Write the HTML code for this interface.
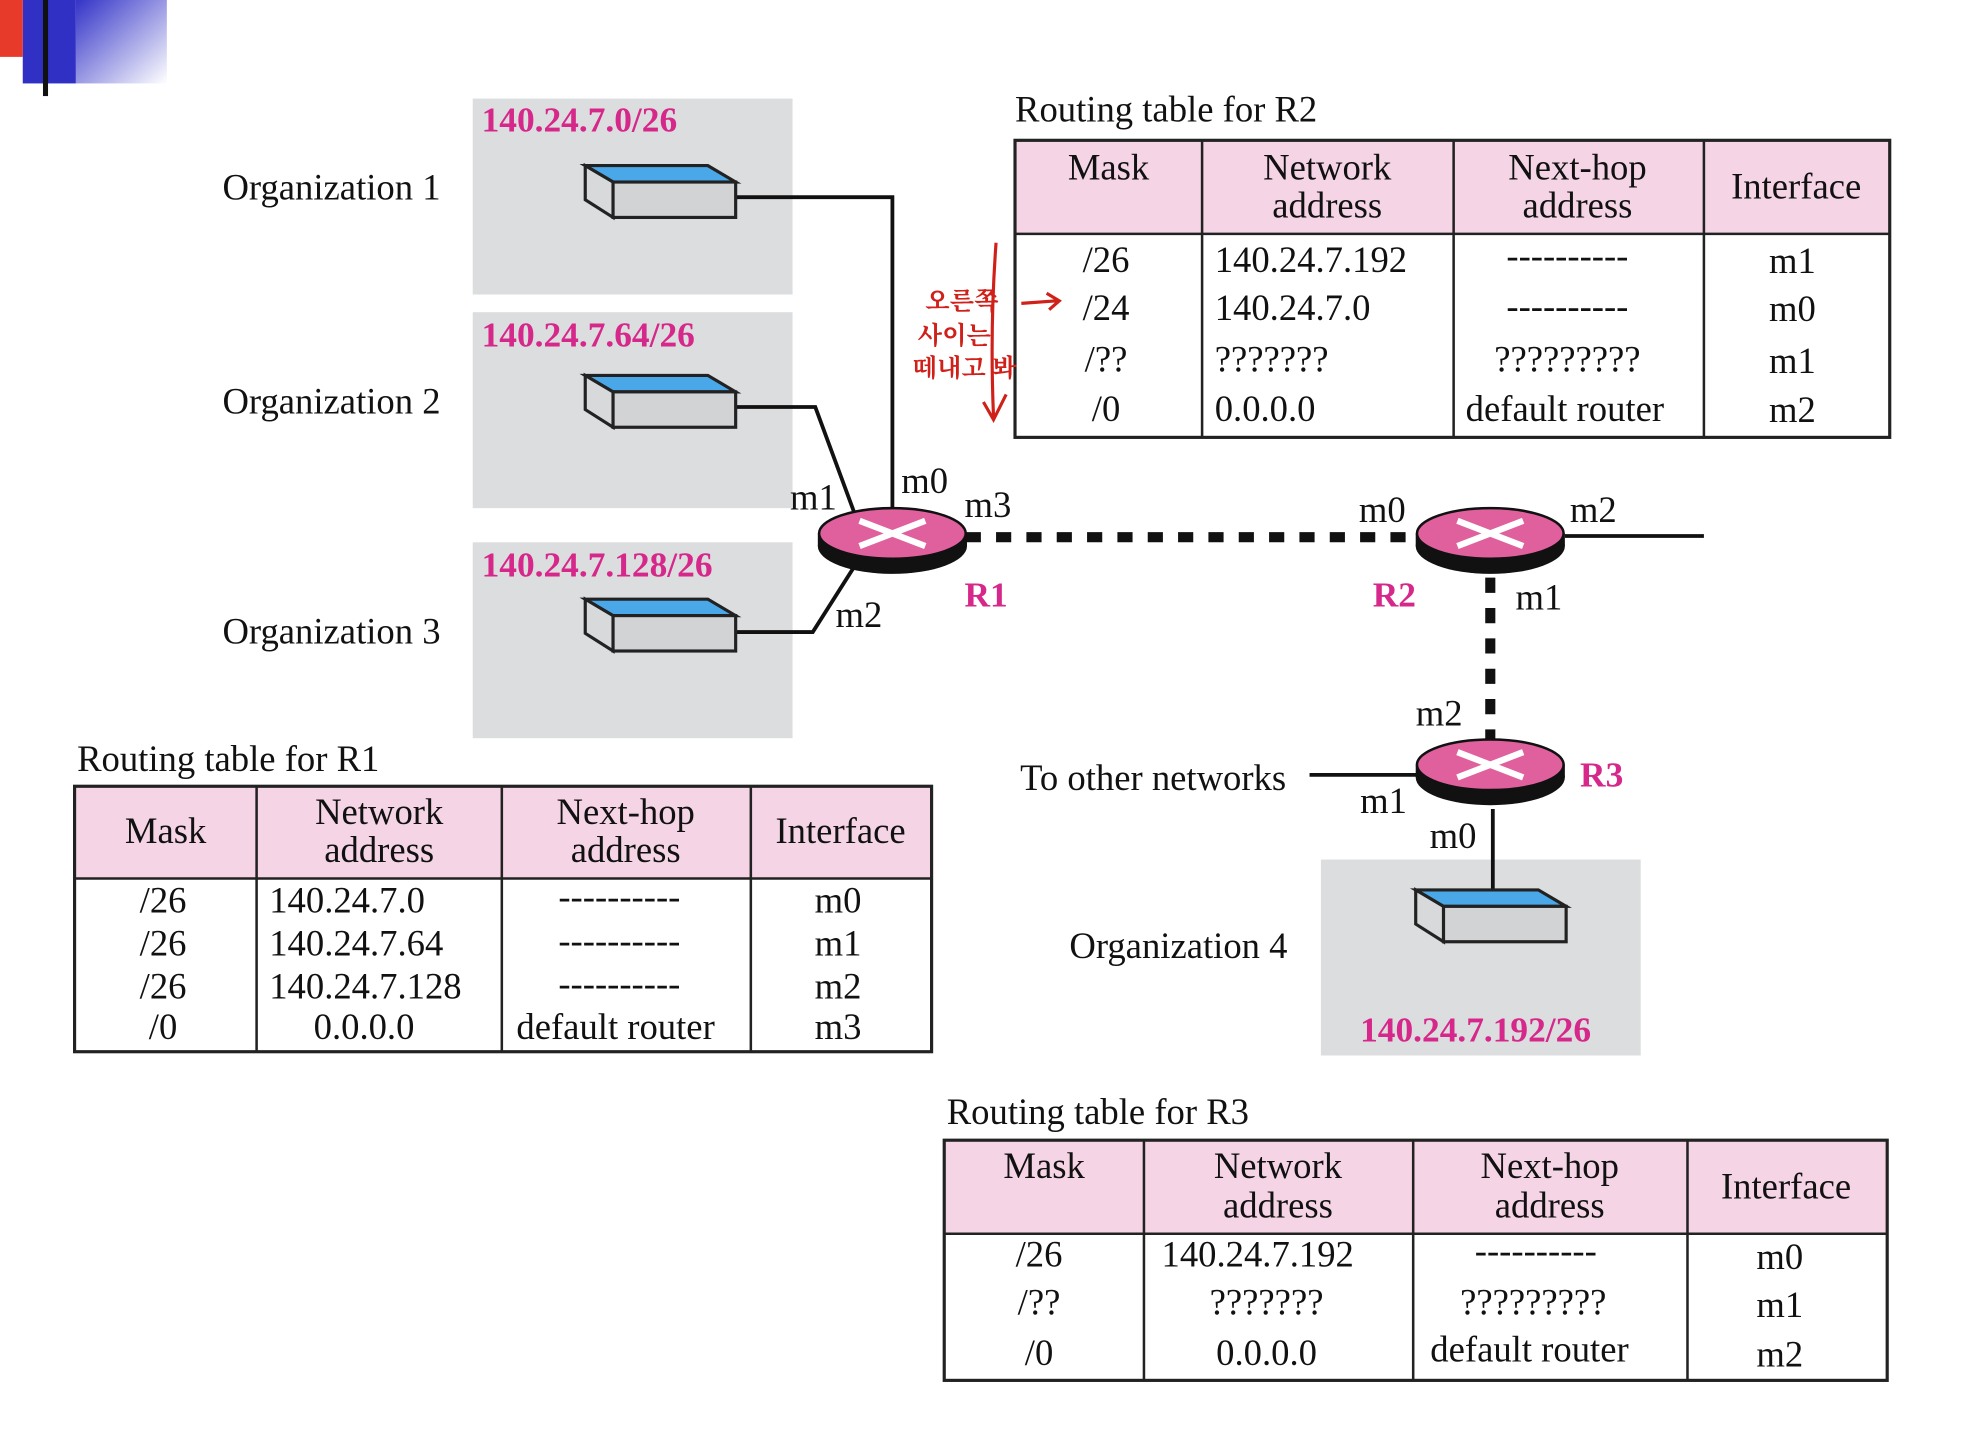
<!DOCTYPE html>
<html><head><meta charset="utf-8"><style>
html,body{margin:0;padding:0;background:#fff}
svg{display:block}
text{font-family:"Liberation Serif","Noto Serif CJK SC",serif;font-size:29px;fill:#111}
.p{fill:#d6288a;font-weight:bold;font-size:28px}
.t{font-size:28.5px}
</style></head><body>
<svg width="1982" height="1436" viewBox="0 0 1568 1136" preserveAspectRatio="none" xmlns="http://www.w3.org/2000/svg">
<defs>
<linearGradient id="g" x1="0" x2="1" y1="0" y2="1"><stop offset="0" stop-color="#3333c8"/><stop offset="1" stop-color="#ffffff"/></linearGradient>
<g id="sw">
<polygon points="0,0 97,0 119,13 22,13" fill="#4aa8e8" stroke="#222" stroke-width="2.5"/>
<polygon points="0,0 22,13 22,41 0,27" fill="#d8d9db" stroke="#222" stroke-width="2.5"/>
<rect x="22" y="13" width="97" height="28" fill="#d2d3d5" stroke="#222" stroke-width="2.5"/>
</g>
<g id="rt">
<ellipse cx="0" cy="10" rx="59" ry="22" fill="#111"/>
<rect x="-59" y="0" width="118" height="10" fill="#111"/>
<ellipse cx="0" cy="0" rx="58" ry="20" fill="#e0609e" stroke="#111" stroke-width="2"/>
<line x1="-26" y1="-10" x2="26" y2="10" stroke="#fff" stroke-width="5"/>
<line x1="-26" y1="10" x2="26" y2="-10" stroke="#fff" stroke-width="5"/>
</g>
</defs>
<rect x="60" y="0" width="72" height="66" fill="url(#g)"/>
<rect x="18" y="0" width="42" height="66" fill="#3030c4"/>
<rect x="0" y="0" width="18" height="45" fill="#e83a2a"/>
<rect x="34" y="0" width="4" height="76" fill="#111"/>

<rect x="374" y="78" width="253" height="155" fill="#dcdddf"/>
<rect x="374" y="247" width="253" height="155" fill="#dcdddf"/>
<rect x="374" y="429" width="253" height="155" fill="#dcdddf"/>
<rect x="1045" y="680" width="253" height="155" fill="#dcdddf"/>
<text class="p" x="381" y="104">140.24.7.0/26</text>
<text class="p" x="381" y="274">140.24.7.64/26</text>
<text class="p" x="381" y="456">140.24.7.128/26</text>
<text class="p" x="1076" y="824">140.24.7.192/26</text>
<text x="176" y="158">Organization 1</text>
<text x="176" y="327">Organization 2</text>
<text x="176" y="509">Organization 3</text>
<text x="846" y="758">Organization 4</text>

<g fill="none" stroke="#111" stroke-width="3">
<polyline points="582,156 706,156 706,406"/>
<polyline points="582,322 645,322 676,406"/>
<polyline points="582,500 643,500 676,448"/>
<line x1="1238" y1="424" x2="1348" y2="424"/>
<line x1="1036" y1="613" x2="1122" y2="613"/>
<line x1="1181" y1="640" x2="1181" y2="705"/>
</g>
<line x1="764" y1="425" x2="1122" y2="425" stroke="#111" stroke-width="8" stroke-dasharray="12,12"/>
<line x1="1179" y1="457" x2="1179" y2="585" stroke="#111" stroke-width="8" stroke-dasharray="12,12"/>

<use href="#sw" x="463" y="131"/>
<use href="#sw" x="463" y="297"/>
<use href="#sw" x="463" y="474"/>
<use href="#sw" x="1120" y="704"/>

<use href="#rt" x="706" y="422"/>
<use href="#rt" x="1179" y="422"/>
<use href="#rt" x="1179" y="605"/>

<text x="625" y="403">m1</text>
<text x="713" y="390">m0</text>
<text x="763" y="409">m3</text>
<text x="661" y="496">m2</text>
<text class="p" x="763" y="480">R1</text>
<text x="1075" y="413">m0</text>
<text x="1242" y="413">m2</text>
<text class="p" x="1086" y="480">R2</text>
<text x="1199" y="482">m1</text>
<text x="1120" y="574">m2</text>
<text class="p" x="1250" y="622">R3</text>
<text x="1076" y="643">m1</text>
<text x="1131" y="671">m0</text>
<text x="807" y="625">To other networks</text>

<text x="803" y="96">Routing table for R2</text>
<rect x="803" y="111" width="692" height="74" fill="#f5d5e5"/>
<rect x="803" y="111" width="692" height="235" fill="none" stroke="#222" stroke-width="2.5"/>
<g stroke="#222" stroke-width="2"><line x1="803" y1="185" x2="1495" y2="185"/><line x1="951" y1="111" x2="951" y2="346"/><line x1="1150" y1="111" x2="1150" y2="346"/><line x1="1348" y1="111" x2="1348" y2="346"/></g>
<g class="t" text-anchor="middle">
<text x="877" y="142">Mask</text><text x="1050" y="142">Network</text><text x="1050" y="172">address</text>
<text x="1248" y="142">Next-hop</text><text x="1248" y="172">address</text><text x="1421" y="157">Interface</text>
<text x="875" y="215">/26</text><text x="875" y="253">/24</text><text x="875" y="294">/??</text><text x="875" y="333">/0</text>
<text x="1240" y="212">----------</text><text x="1240" y="252">----------</text><text x="1240" y="294">?????????</text><text x="1238" y="333">default router</text>
<text x="1418" y="216">m1</text><text x="1418" y="254">m0</text><text x="1418" y="295">m1</text><text x="1418" y="334">m2</text>
</g>
<g class="t"><text x="961" y="215">140.24.7.192</text><text x="961" y="253">140.24.7.0</text><text x="961" y="294">???????</text><text x="961" y="333">0.0.0.0</text></g>

<g stroke="#d0201a" stroke-width="2.5" fill="none">
<path d="M788,192 Q783,260 786,330 M778,318 L786,332 L796,312"/>
<path d="M808,240 L836,238 M828,232 L838,238 L830,245"/>
</g>
<text x="732" y="245" style="fill:#d0201a;font-size:20px;font-weight:bold">오른쪽</text>
<text x="726" y="272" style="fill:#d0201a;font-size:20px;font-weight:bold">사이는</text>
<text x="722" y="298" style="fill:#d0201a;font-size:20px;font-weight:bold">떼내고 봐</text>

<text x="61" y="610">Routing table for R1</text>
<rect x="59" y="622" width="678" height="73" fill="#f5d5e5"/>
<rect x="59" y="622" width="678" height="210" fill="none" stroke="#222" stroke-width="2.5"/>
<g stroke="#222" stroke-width="2"><line x1="59" y1="695" x2="737" y2="695"/><line x1="203" y1="622" x2="203" y2="832"/><line x1="397" y1="622" x2="397" y2="832"/><line x1="594" y1="622" x2="594" y2="832"/></g>
<g class="t" text-anchor="middle">
<text x="131" y="667">Mask</text><text x="300" y="652">Network</text><text x="300" y="682">address</text>
<text x="495" y="652">Next-hop</text><text x="495" y="682">address</text><text x="665" y="667">Interface</text>
<text x="129" y="722">/26</text><text x="129" y="756">/26</text><text x="129" y="790">/26</text><text x="129" y="822">/0</text>
<text x="490" y="719">----------</text><text x="490" y="754">----------</text><text x="490" y="788">----------</text><text x="487" y="822">default router</text>
<text x="663" y="722">m0</text><text x="663" y="756">m1</text><text x="663" y="790">m2</text><text x="663" y="822">m3</text>
<text x="288" y="822">0.0.0.0</text>
</g>
<g class="t"><text x="213" y="722">140.24.7.0</text><text x="213" y="756">140.24.7.64</text><text x="213" y="790">140.24.7.128</text></g>

<text x="749" y="889">Routing table for R3</text>
<rect x="747" y="902" width="746" height="74" fill="#f5d5e5"/>
<rect x="747" y="902" width="746" height="190" fill="none" stroke="#222" stroke-width="2.5"/>
<g stroke="#222" stroke-width="2"><line x1="747" y1="976" x2="1493" y2="976"/><line x1="905" y1="902" x2="905" y2="1092"/><line x1="1118" y1="902" x2="1118" y2="1092"/><line x1="1335" y1="902" x2="1335" y2="1092"/></g>
<g class="t" text-anchor="middle">
<text x="826" y="932">Mask</text><text x="1011" y="932">Network</text><text x="1011" y="963">address</text>
<text x="1226" y="932">Next-hop</text><text x="1226" y="963">address</text><text x="1413" y="948">Interface</text>
<text x="822" y="1002">/26</text><text x="822" y="1040">/??</text><text x="822" y="1080">/0</text>
<text x="995" y="1002">140.24.7.192</text><text x="1002" y="1040">???????</text><text x="1002" y="1080">0.0.0.0</text>
<text x="1215" y="999">----------</text><text x="1213" y="1040">?????????</text><text x="1210" y="1077">default router</text>
<text x="1408" y="1004">m0</text><text x="1408" y="1042">m1</text><text x="1408" y="1081">m2</text>
</g>
</svg>
</body></html>
